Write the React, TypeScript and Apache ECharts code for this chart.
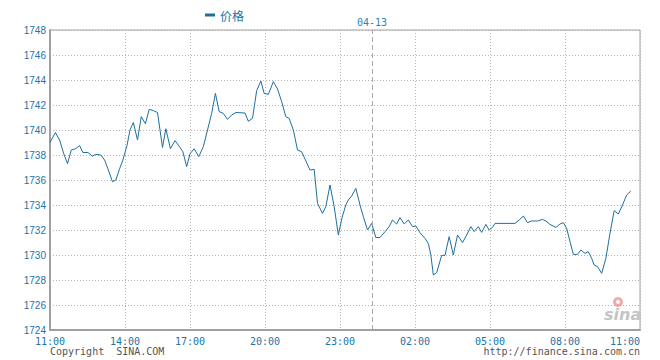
import React, { useEffect, useRef } from "react";
import * as echarts from "echarts";

// Slot positions on the (compressed) minute axis and prices
const pointSlot = [
  0, 13, 23, 33, 42, 51, 61, 71, 79, 91, 102, 109, 122, 131, 139, 150, 158, 167, 175, 185,
  192, 200, 210, 219, 229, 238, 248, 258, 270, 278, 289, 300, 310, 319, 328, 336, 346, 357, 368, 378,
  388, 397, 406, 416, 426, 436, 446, 468, 476, 486, 496, 506, 514, 524, 536, 546, 556, 566, 574, 584,
  594, 604, 624, 634, 642, 654, 662, 672, 682, 692, 701, 710, 716, 724, 734, 744, 752, 762, 772, 782,
  792, 804, 814, 822, 832, 840, 850, 860, 870, 878, 888, 900, 908, 914, 920, 928, 940, 948, 958, 968,
  978, 990, 1000, 1010, 1018, 1028, 1036, 1046, 1054, 1062, 1068, 1116, 1126, 1136, 1146, 1156, 1170, 1182, 1190, 1200,
  1214, 1224, 1232, 1240, 1248, 1256, 1266, 1274, 1284, 1292, 1300, 1306, 1314, 1324, 1334, 1344, 1354, 1364, 1374, 1384,
  1394,
];
const prices = [
  1739.0, 1739.8, 1739.2, 1738.1, 1737.3, 1738.4, 1738.5, 1738.75, 1738.2, 1738.2, 1737.9, 1738.05, 1738.0, 1737.6, 1736.9, 1735.86, 1736.0, 1736.9, 1737.6, 1738.8,
  1740.0, 1740.6, 1739.2, 1741.07, 1740.5, 1741.65, 1741.55, 1741.4, 1738.6, 1740.1, 1738.5, 1739.15, 1738.7, 1738.26, 1737.07, 1738.1, 1738.5, 1737.87, 1738.67, 1740.0,
  1741.33, 1742.93, 1741.47, 1741.33, 1740.85, 1741.2, 1741.4, 1741.36, 1740.7, 1740.93, 1743.15, 1743.92, 1742.93, 1742.85, 1743.87, 1743.28, 1742.27, 1741.07, 1740.93, 1740.0,
  1738.4, 1738.26, 1736.8, 1736.85, 1734.13, 1733.33, 1733.87, 1735.6, 1733.87, 1731.6, 1733.0, 1734.0, 1734.4, 1734.72, 1735.33, 1734.0, 1733.07, 1732.0, 1732.53, 1731.4,
  1731.4, 1731.87, 1732.27, 1732.8, 1732.48, 1732.99, 1732.48, 1732.8, 1732.27, 1732.32, 1731.78, 1731.33, 1730.93, 1730.0, 1728.4, 1728.59, 1729.97, 1729.97, 1731.47, 1730.0,
  1731.6, 1730.99, 1731.6, 1732.27, 1731.87, 1732.27, 1731.81, 1732.45, 1732.0, 1732.21, 1732.53, 1732.53, 1732.8, 1733.12, 1732.59, 1732.72, 1732.72, 1732.85, 1732.72, 1732.45,
  1732.21, 1732.48, 1732.59, 1732.13, 1731.07, 1730.05, 1730.05, 1730.4, 1730.13, 1730.27, 1729.73, 1729.2, 1729.07, 1728.53, 1729.73, 1731.73, 1733.55, 1733.28, 1734.0, 1734.8,
  1735.12,
];
const tickSlots = [0, 180, 336, 516, 696, 876, 1056, 1236, 1416];
const daySplitSlot = 773;
const daySplitLabel = "04-13";
const seriesName = "价格";
const yMin = 1724;
const yMax = 1748;
const yStep = 2;

// minute-by-minute categories from 04-12 11:00 to 04-13 11:00 (24 minutes absent after 16:00)
const categories: string[] = [];
for (let s = 0; s <= 1416; s++) {
  const r = s < 300 ? s : s + 24;
  const t = 11 * 60 + r;
  const day = t >= 1440 ? "04-13" : "04-12";
  const hh = Math.floor((t % 1440) / 60);
  const mm = t % 60;
  categories.push(`${day} ${String(hh).padStart(2, "0")}:${String(mm).padStart(2, "0")}`);
}

const BLUE = "#1f6e9f";
const LABEL_BLUE = "#2273a6";

export default function App() {
  const ref = useRef<HTMLDivElement>(null);
  useEffect(() => {
    document.body.style.margin = "0";
    const chart = echarts.init(ref.current!, undefined, { renderer: "svg" });
    const tickSet = new Set(tickSlots);
    const data = pointSlot.map((s, i) => [categories[s], prices[i]]);
    chart.setOption({
      animation: false,
      backgroundColor: "#fff",
      legend: {
        left: 200,
        top: 4,
        itemWidth: 10,
        itemHeight: 3,
        itemGap: 5,
        data: [{ name: seriesName, icon: "rect" }],
        textStyle: { color: LABEL_BLUE, fontSize: 12, fontFamily: "Noto Sans CJK SC" },
      },
      grid: {
        left: 50,
        right: 20,
        top: 30,
        bottom: 30,
        show: true,
        borderColor: "#a0a0a0",
        borderWidth: 1,
      },
      xAxis: {
        type: "category",
        data: categories,
        boundaryGap: false,
        axisLine: { show: true, lineStyle: { color: "#a0a0a0", width: 2 } },
        axisTick: { show: false },
        axisLabel: {
          interval: (idx: number) => tickSet.has(idx),
          formatter: (v: string) => v.slice(6),
          color: LABEL_BLUE,
          fontSize: 10,
          fontFamily: "DejaVu Sans Mono",
          margin: 6,
          alignMaxLabel: "right",
        },
        splitLine: {
          show: true,
          interval: (idx: number) => tickSet.has(idx),
          lineStyle: { color: "#b4b4b4", type: [1, 2], width: 1 },
        },
      },
      yAxis: {
        type: "value",
        min: yMin,
        max: yMax,
        interval: yStep,
        axisLine: { show: true, lineStyle: { color: "#a0a0a0", width: 2 } },
        axisTick: { show: false },
        axisLabel: {
          color: LABEL_BLUE,
          fontSize: 10,
          fontFamily: "Liberation Sans",
          margin: 4,
          formatter: (v: number) => String(v),
        },
        splitLine: { show: true, lineStyle: { color: "#b4b4b4", type: [1, 2], width: 1 } },
      },
      series: [
        {
          name: seriesName,
          type: "line",
          data,
          showSymbol: false,
          symbol: "none",
          itemStyle: { color: BLUE },
          lineStyle: { color: BLUE, width: 1 },
          markLine: {
            silent: true,
            symbol: "none",
            animation: false,
            lineStyle: { color: "#aaaaaa", type: [5, 3], width: 1 },
            label: {
              show: true,
              position: "end",
              formatter: daySplitLabel,
              color: "#2a86a8",
              fontSize: 10,
              fontFamily: "DejaVu Sans Mono",
              distance: 3,
            },
            data: [{ xAxis: categories[daySplitSlot] }],
          },
        },
      ],
      graphic: [
        {
          type: "text",
          left: 50,
          top: 346,
          style: { text: "Copyright  SINA.COM", fill: "#555", font: '10px "DejaVu Sans Mono"' },
        },
        {
          type: "text",
          right: 20,
          top: 346,
          style: { text: "http://finance.sina.com.cn", fill: "#555", font: '10px "DejaVu Sans Mono"' },
        },
        {
          type: "ring",
          shape: { cx: 618, cy: 302, r: 5, r0: 2 },
          style: { fill: "rgba(225,90,90,0.5)" },
          z: 1,
        },
        {
          type: "text",
          x: 604,
          y: 306,
          style: {
            text: "sina",
            fill: "#c4c4c4",
            font: 'italic bold 16px "DejaVu Sans"',
          },
          z: 1,
        },
      ],
    });
    return () => chart.dispose();
  }, []);
  return <div ref={ref} style={{ width: 660, height: 360 }} />;
}
